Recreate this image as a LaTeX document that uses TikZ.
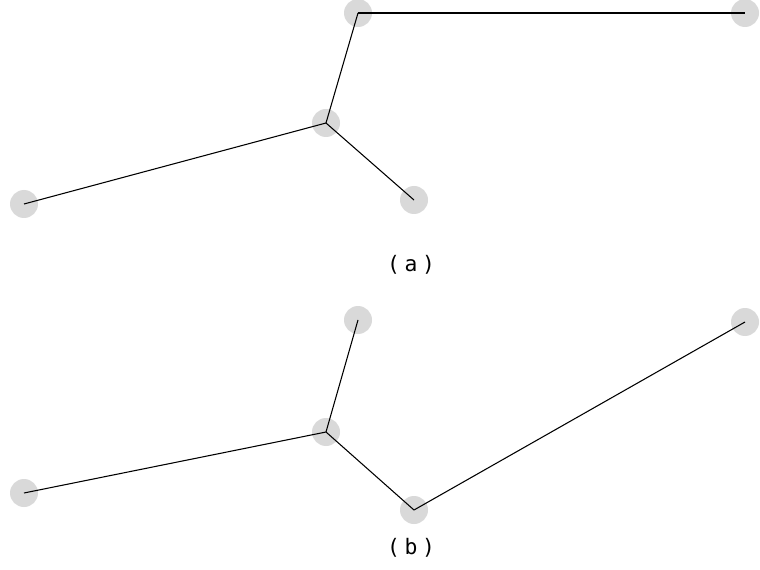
\documentclass[tikz,border=0pt]{standalone}
\usepackage{fontspec}
\newfontfamily\labelfont[LetterSpace=22]{DejaVu Sans Mono}
\tikzset{
  blob/.style={circle, fill=gray!30, minimum size=21pt, inner sep=0pt},
  edge/.style={black, line width=0.8pt},
  caption/.style={font=\labelfont\fontsize{16}{18}\selectfont}
}
\begin{document}
\begin{tikzpicture}[x=0.75pt, y=-0.75pt]
        \useasboundingbox (0,0) rectangle (760,570);

        % Arbol (a)
        \node[blob] (atop) at (358,13) {};
        \node[blob] (aright) at (745,13) {};
        \node[blob] (acenter) at (326,123) {};
        \node[blob] (aleft) at (24,204) {};
        \node[blob] (abottom) at (414,200) {};
        \draw[edge] (atop.center) -- (aright.center);
        \draw[edge] (atop.center) -- (acenter.center);
        \draw[edge] (acenter.center) -- (aleft.center);
        \draw[edge] (acenter.center) -- (abottom.center);
        \node[caption] (alabel) at (411,265) {(a)};

        % Arbol (b)
        \node[blob] (btop) at (358,320) {};
        \node[blob] (bright) at (745,322) {};
        \node[blob] (bcenter) at (326,432) {};
        \node[blob] (bleft) at (24,493) {};
        \node[blob] (bbottom) at (414,510) {};
        \draw[edge] (btop.center) -- (bcenter.center);
        \draw[edge] (bcenter.center) -- (bleft.center);
        \draw[edge] (bcenter.center) -- (bbottom.center);
        \draw[edge] (bbottom.center) -- (bright.center);
        \node[caption] (blabel) at (411,548) {(b)};
\end{tikzpicture}
\end{document}
